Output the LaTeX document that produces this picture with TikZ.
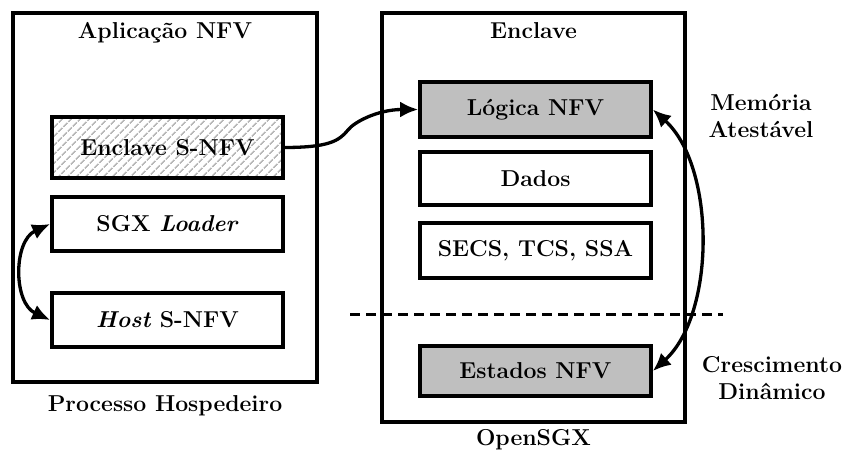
\documentclass[tikz,border=0pt]{standalone}
\usetikzlibrary{arrows.meta,patterns.meta}
\begin{document}
\begin{tikzpicture}[x=1pt,y=-1pt,
  every node/.style={font=\fontsize{23}{26.5}\selectfont\bfseries},
  frame/.style={draw, line width=3.7pt, inner sep=0pt},
  blk/.style={draw, line width=3.7pt, minimum width=231pt, inner sep=0pt},
  grayblk/.style={blk, fill=black!25},
  hatchblk/.style={blk, pattern={Lines[angle=45,distance=6.5pt,line width=1.6pt]}, pattern color=black!28},
  lbl/.style={anchor=base},
  side/.style={align=center},
  tipstyle/.style={line width=3.3pt},
  dbl/.style={tipstyle, {Latex[length=18pt,width=16pt]}-{Latex[length=18pt,width=16pt]}},
  sgl/.style={tipstyle, -{Latex[length=18pt,width=16pt]}},
  sep/.style={line width=3pt, dash pattern=on 10pt off 6pt}
]
\fill[white] (0,0) rectangle (845,450);
\useasboundingbox (0,0) rectangle (845,450);

% containers
\node[frame, minimum width=304pt, minimum height=369pt] (app) at (165,197.5) {};
\node[frame, minimum width=303pt, minimum height=409pt] (encl) at (533.5,217.5) {};

% titles
\node[lbl] (tapp) at (165,38) {Aplicação NFV};
\node[lbl] (tencl) at (533.5,38) {Enclave};
\node[lbl] (tproc) at (165,411) {Processo Hospedeiro};
\node[lbl] (topen) at (533.5,445) {OpenSGX};
\node[side] (tmem) at (761,116) {Memória\\Atestável};
\node[side] (tcres) at (772,378) {Crescimento\\Dinâmico};

% left blocks
\node[hatchblk, minimum height=61pt] (hat) at (167.5,147.5) {Enclave S-NFV};
\node[blk, minimum height=54pt] (sgx) at (167.5,224) {SGX \textit{Loader}};
\node[blk, minimum height=54pt] (host) at (167.5,320) {\textit{Host} S-NFV};

% right blocks
\node[grayblk, minimum height=55pt] (logica) at (535.5,109.5) {Lógica NFV};
\node[blk, minimum height=53pt] (dados) at (535.5,178.5) {Dados};
\node[blk, minimum height=55pt] (secs) at (535.5,250.5) {SECS, TCS, SSA};
\node[grayblk, minimum height=50pt] (estados) at (535.5,371) {Estados NFV};

% separator
\coordinate (sepL) at (350,314);
\coordinate (sepR) at (723,314);
\draw[sep] (sepL) -- (sepR);

% connectors
\coordinate (kink) at (348,130);
\draw[sgl] (hat.east) .. controls +(45,0) and +(-9,11) .. (kink)
  .. controls +(6,-8) and +(-40,0) .. (logica.west);
\draw[dbl] (sgx.west) .. controls +(-37,17) and +(-37,-17) .. (host.west);
\draw[dbl] (logica.east) .. controls +(63,57) and +(63,-57) .. (estados.east);
\end{tikzpicture}
\end{document}
